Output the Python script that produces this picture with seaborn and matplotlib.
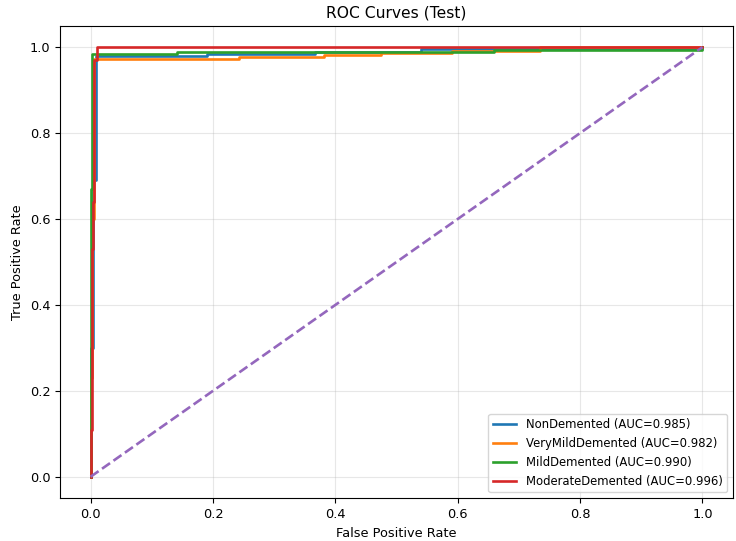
import matplotlib
matplotlib.use("Agg")
import matplotlib.pyplot as plt
import seaborn as sns
import pandas as pd

classes = ["NonDemented", "VeryMildDemented", "MildDemented", "ModerateDemented"]
aucs = [0.985, 0.982, 0.990, 0.996]

non_fpr = [0, 0, 0.004, 0.004, 0.009, 0.009, 0.19, 0.19, 0.366, 0.366, 0.54, 0.54, 1.0, 1.0]
non_tpr = [0, 0.3, 0.3, 0.69, 0.69, 0.98, 0.98, 0.984, 0.984, 0.989, 0.989, 0.995, 0.995, 1.0]

vmild_fpr = [0, 0, 0.003, 0.003, 0.005, 0.005, 0.243, 0.243, 0.382, 0.382, 0.475, 0.475, 0.59, 0.59, 0.735, 0.735, 1.0]
vmild_tpr = [0, 0.23, 0.23, 0.6, 0.6, 0.972, 0.972, 0.976, 0.976, 0.982, 0.982, 0.986, 0.986, 0.99, 0.99, 1.0, 1.0]

mild_fpr = [0, 0, 0.001, 0.001, 0.003, 0.003, 0.142, 0.142, 0.66, 0.66, 1.0, 1.0]
mild_tpr = [0, 0.11, 0.11, 0.67, 0.67, 0.984, 0.984, 0.989, 0.989, 0.994, 0.994, 1.0]

mod_fpr = [0, 0, 0.002, 0.002, 0.004, 0.004, 0.006, 0.006, 0.01, 0.01, 1.0]
mod_tpr = [0, 0.11, 0.11, 0.53, 0.53, 0.64, 0.64, 0.97, 0.97, 1.0, 1.0]

diag = [0, 1]

fprs = [non_fpr, vmild_fpr, mild_fpr, mod_fpr]
tprs = [non_tpr, vmild_tpr, mild_tpr, mod_tpr]
colors = ["#1f77b4", "#ff7f0e", "#2ca02c", "#d62728"]

plt.rcParams["xtick.labelsize"] = 9.3
plt.rcParams["ytick.labelsize"] = 9.3
plt.rcParams["axes.labelsize"] = 9.3

fig, ax = plt.subplots(figsize=(7.36, 5.41), dpi=100)
for name, auc, f, t, c in zip(classes, aucs, fprs, tprs, colors):
    df = pd.DataFrame({"fpr": f, "tpr": t})
    sns.lineplot(data=df, x="fpr", y="tpr", sort=False, estimator=None,
                 color=c, linewidth=1.9, label=f"{name} (AUC={auc:.3f})", ax=ax)

sns.lineplot(x=diag, y=diag, sort=False, estimator=None, color="#9467bd",
             linewidth=1.9, linestyle="--", ax=ax)

ax.set_title("ROC Curves (Test)", fontsize=11.2)
ax.set_xlabel("False Positive Rate")
ax.set_ylabel("True Positive Rate")
ax.grid(True, alpha=0.3)
ax.legend(loc="lower right", fontsize=8.4)
fig.subplots_adjust(left=0.0815, right=0.996, top=0.9525, bottom=0.079)
fig.savefig("out.png", dpi=100)
